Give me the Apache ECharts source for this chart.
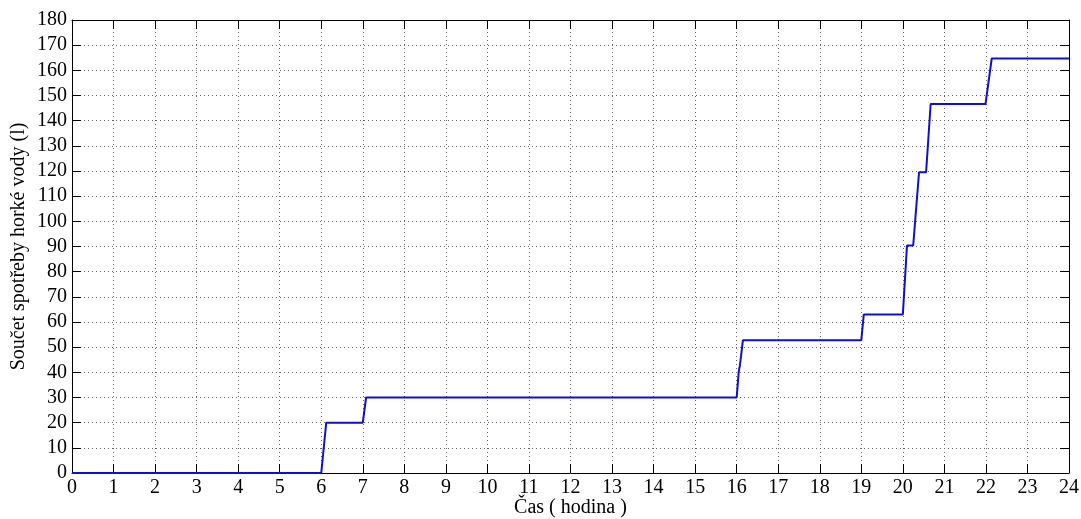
<!DOCTYPE html>
<html>
<head>
<meta charset="utf-8">
<script src="https://cdn.jsdelivr.net/npm/echarts@6/dist/echarts.min.js"></script>
<style>
html,body{margin:0;padding:0;background:#fff;}
#chart{width:1081px;height:519px;}
</style>
</head>
<body>
<div id="chart"></div>
<script>
// Data
const hours  = [0, 6.0, 6.12, 7.0, 7.08, 16.0, 16.05, 16.08, 16.15, 19.0, 19.06, 20.0, 20.1, 20.25, 20.39, 20.56, 20.67, 21.99, 22.14, 24];
const liters = [0, 0, 20, 20, 30, 30, 40.3, 43, 52.7, 52.7, 63, 63, 90.4, 90.4, 119.5, 119.5, 146.6, 146.6, 164.7, 164.7];
const xTicks = {min: 0, max: 24, interval: 1};
const yTicks = {min: 0, max: 180, interval: 10};
const xName = 'Čas ( hodina )';
const yName = 'Součet spotřeby horké vody (l)';

const font = "'Liberation Serif', 'Times New Roman', serif";
const chart = echarts.init(document.getElementById('chart'), null, {renderer: 'canvas'});
const points = hours.map((h, i) => [h, liters[i]]);

const axisLine = {show: true, onZero: false, lineStyle: {color: '#000', width: 1}};
const tick = {show: true, inside: true, length: 9, lineStyle: {color: '#000', width: 1}};
const split = {show: true, lineStyle: {color: '#666', type: [1, 3], width: 1}};

chart.setOption({
  backgroundColor: '#fff',
  animation: false,
  grid: {left: 72, right: 12, top: 20, bottom: 46, containLabel: false, outerBoundsMode: 'none'},
  xAxis: [
    {type: 'value', min: xTicks.min, max: xTicks.max, interval: xTicks.interval, position: 'bottom',
     name: xName, nameLocation: 'middle', nameGap: 25, nameMoveOverlap: false,
     nameTextStyle: {fontFamily: font, fontSize: 20, color: '#000'},
     axisLine: axisLine, axisTick: tick, splitLine: split,
     axisLabel: {fontFamily: font, fontSize: 20, color: '#000', margin: 5}},
    {type: 'value', min: xTicks.min, max: xTicks.max, interval: xTicks.interval, position: 'top',
     axisLine: axisLine, axisTick: tick, splitLine: {show: false}, axisLabel: {show: false}}
  ],
  yAxis: [
    {type: 'value', min: yTicks.min, max: yTicks.max, interval: yTicks.interval, position: 'left',
     name: yName, nameLocation: 'middle', nameGap: 43, nameRotate: 90, nameMoveOverlap: false,
     nameTextStyle: {fontFamily: font, fontSize: 20, color: '#000'},
     axisLine: axisLine, axisTick: tick, splitLine: split,
     axisLabel: {fontFamily: font, fontSize: 20, color: '#000', margin: 5}},
    {type: 'value', min: yTicks.min, max: yTicks.max, interval: yTicks.interval, position: 'right',
     axisLine: axisLine, axisTick: tick, splitLine: {show: false}, axisLabel: {show: false}}
  ],
  series: [{
    type: 'line', xAxisIndex: 0, yAxisIndex: 0, data: points,
    showSymbol: false, symbol: 'none',
    lineStyle: {color: '#1010c4', width: 2}
  }]
});
</script>
</body>
</html>
